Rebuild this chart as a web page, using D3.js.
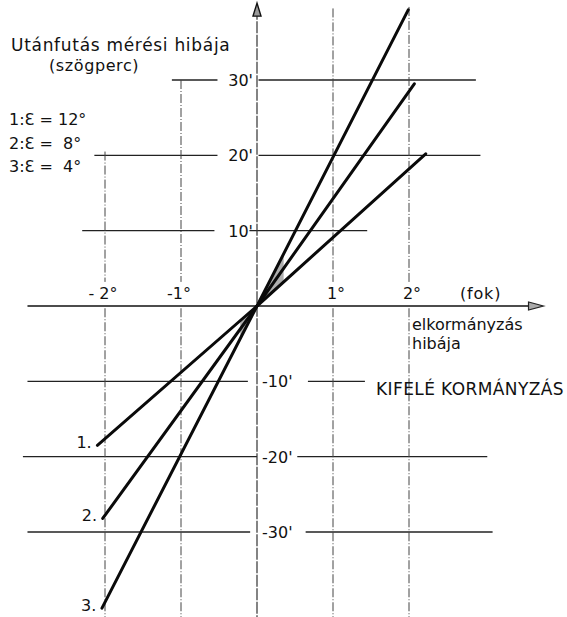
<!DOCTYPE html>
<html>
<head>
<meta charset="utf-8">
<script src="https://cdn.jsdelivr.net/npm/d3@7"></script>
<style>
  html, body { margin: 0; padding: 0; background: #fff; }
  svg { display: block; }
  text { font-family: "DejaVu Sans", "Liberation Sans", sans-serif; fill: #111; }
</style>
</head>
<body>
<svg id="chart" width="567" height="617"></svg>
<script>
// Steering error (degrees) vs. follow-up measurement error (arc minutes)
const xTicks = [-2, -1, 1, 2];
const xTickLabels = ["- 2°", "-1°", "1°", "2°"];
const yTicks = [30, 20, 10, -10, -20, -30];
const yTickLabels = ["30'", "20'", "10'", "-10'", "-20'", "-30'"];

const seriesNames = ["1.", "2.", "3."];
const legendLines = ["1:Ɛ = 12°", "2:Ɛ =  8°", "3:Ɛ =  4°"];
const series1X = [-2.1, 0, 2.22];
const series1Y = [-18.5, 0, 20.2];
const series2X = [-2.03, 0, 2.07];
const series2Y = [-28.2, 0, 29.5];
const series3X = [-2.04, 0, 1.99];
const series3Y = [-40.1, 0, 39.3];

const yTitle = ["Utánfutás mérési hibája", "(szögperc)"];
const xUnit = "(fok)";
const xTitle = ["elkormányzás", "hibája"];
const note = "KIFELÉ KORMÁNYZÁS";

const svg = d3.select("#chart");
const x = d3.scaleLinear().domain([-2, 2]).range([105, 409]);
const y = d3.scaleLinear().domain([-30, 30]).range([532, 80]);

const x0 = x(0), y0 = y(0);

// horizontal grid segments: [value, leftStart, leftEnd, rightStart, rightEnd] in data units
const hGrid = [
  [30, -1.12, -0.52, 0.02, 2.88],
  [20, -2.14, -0.52, 0.02, 2.94],
  [10, -2.3, -0.56, -0.1, 1.45],
  [-10, -3.02, -0.12, 0.67, 1.42],
  [-20, -3.08, 0, 0.53, 3.03],
  [-30, -3.02, -0.09, 0.64, 3.1]
];
const gridG = svg.append("g");
hGrid.forEach(([v, a, b, c, d]) => {
  [[a, b], [c, d]].forEach(([s, e]) => {
    gridG.append("line")
      .attr("x1", x(s)).attr("x2", x(e))
      .attr("y1", y(v)).attr("y2", y(v))
      .attr("stroke", "#222").attr("stroke-width", 1.3);
  });
});

// vertical grid lines with a break for the tick label
const vTop = { "-2": 20.5, "-1": 30, "1": 39.5, "2": 39.7 };
xTicks.forEach(t => {
  [[vTop[t], 3.2], [-0.3, -41.5]].forEach(([s, e]) => {
    gridG.append("line")
      .attr("x1", x(t)).attr("x2", x(t))
      .attr("y1", y(s)).attr("y2", y(e))
      .attr("stroke", "#444").attr("stroke-width", 1)
      .attr("stroke-dasharray", "9,2,1,2");
  });
});

// axes
const axG = svg.append("g");
axG.append("line")
  .attr("x1", x(-3.02)).attr("x2", x(3.75))
  .attr("y1", y0).attr("y2", y0)
  .attr("stroke", "#111").attr("stroke-width", 1.5);
axG.append("line")
  .attr("x1", x0).attr("x2", x0)
  .attr("y1", y(39.6)).attr("y2", y(-41.5))
  .attr("stroke", "#333").attr("stroke-width", 1.2)
  .attr("stroke-dasharray", "12,1.5");
// arrowheads
const xe = x(3.77);
axG.append("path")
  .attr("d", `M${xe},${y0} L${xe - 15},${y0 - 4} L${xe - 15},${y0 + 4} Z`)
  .attr("fill", "#aaa").attr("stroke", "#222").attr("stroke-width", 1.2);
const ye = y(40.2);
axG.append("path")
  .attr("d", `M${x0},${ye} L${x0 - 4},${ye + 13} L${x0 + 4},${ye + 13} Z`)
  .attr("fill", "#999").attr("stroke", "#111").attr("stroke-width", 1.4);

// tick labels
const tl = svg.append("g").style("font-size", "16px");
yTicks.forEach((v, i) => {
  tl.append("text")
    .attr("x", v > 0 ? x0 - 4 : x0 + 5)
    .attr("y", y(v) + 6)
    .attr("text-anchor", v > 0 ? "end" : "start")
    .text(yTickLabels[i]);
});
xTicks.forEach((v, i) => {
  tl.append("text")
    .attr("x", x(v) + (v < 0 ? -2 : 3))
    .attr("y", y0 - 7)
    .attr("text-anchor", "middle")
    .text(xTickLabels[i]);
});

// series lines
const series = [
  { xs: series1X, ys: series1Y, name: seriesNames[0] },
  { xs: series2X, ys: series2Y, name: seriesNames[1] },
  { xs: series3X, ys: series3Y, name: seriesNames[2] }
];
const line = d3.line().x(d => x(d[0])).y(d => y(d[1]));

// light shading where the lines converge at the origin
const sh = svg.append("g");
[0.35, -0.22].forEach(t => {
  const p = [[0, 0], [t, t * series1Y[2] / series1X[2]], [t, t * series3Y[2] / series3X[2]]];
  sh.append("path").attr("d", line(p) + "Z").attr("fill", "#9a9a9a").attr("opacity", 0.8);
});

const lg = svg.append("g");
series.forEach(s => {
  const pts = s.xs.map((v, i) => [v, s.ys[i]]);
  lg.append("path")
    .attr("d", line(pts))
    .attr("fill", "none")
    .attr("stroke", "#0a0a0a")
    .attr("stroke-width", 3)
    .attr("stroke-linecap", "round");
  lg.append("text")
    .attr("x", x(s.xs[0]) - 21)
    .attr("y", y(s.ys[0]) + 3)
    .style("font-size", "16px")
    .text(s.name);
});

// titles and notes
const tt = svg.append("g");
tt.append("text").attr("x", 11).attr("y", 51).style("font-size", "17px")
  .style("letter-spacing", "0.7px").text(yTitle[0]);
tt.append("text").attr("x", 49).attr("y", 71).style("font-size", "16px")
  .style("letter-spacing", "0.6px").text(yTitle[1]);
legendLines.forEach((s, i) => {
  tt.append("text").attr("x", 9).attr("y", 125 + i * 23.5)
    .style("font-size", "16px").style("white-space", "pre").attr("xml:space", "preserve").text(s);
});
tt.append("text").attr("x", 460).attr("y", y0 - 7).style("font-size", "16px")
  .style("letter-spacing", "0.8px").text(xUnit);
tt.append("text").attr("x", 412).attr("y", y0 + 24).style("font-size", "16px").text(xTitle[0]);
tt.append("text").attr("x", 412).attr("y", y0 + 43).style("font-size", "16px").text(xTitle[1]);
tt.append("text").attr("x", 376).attr("y", y(-10) + 14).style("font-size", "17px")
  .style("letter-spacing", "0.4px").text(note);
</script>
</body>
</html>
